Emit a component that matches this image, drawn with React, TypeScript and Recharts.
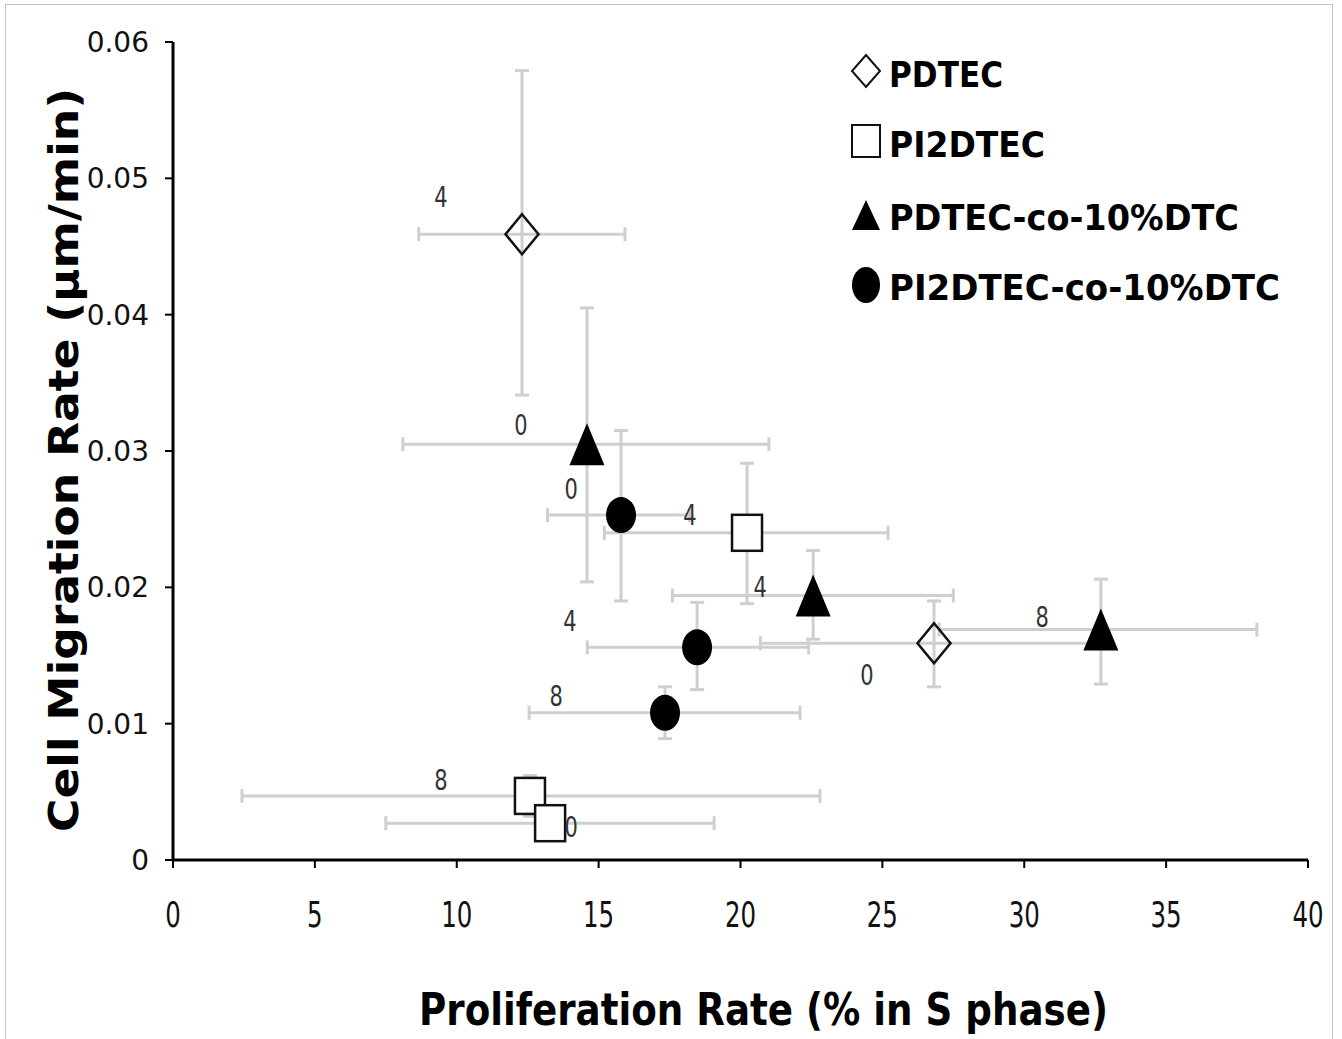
import React from "react";
import { ScatterChart, Scatter, XAxis, YAxis, ErrorBar, Legend } from "recharts";

const xTicks = [0, 5, 10, 15, 20, 25, 30, 35, 40];
const yTicks = [0, 0.01, 0.02, 0.03, 0.04, 0.05, 0.06];

// PDTEC (open diamond)
const pdtecX = [12.3, 26.82];
const pdtecY = [0.0459, 0.0159];
const pdtecXLow = [8.66, 20.7];
const pdtecXHigh = [15.93, 32.4];
const pdtecYLow = [0.0341, 0.0127];
const pdtecYHigh = [0.0579, 0.019];
const pdtecDays = ["4", "0"];
const pdtecLabelX = [9.44, 24.46];
const pdtecLabelY = [0.0486, 0.0136];

// PI2DTEC (open square)
const pi2X = [20.23, 12.58, 13.29];
const pi2Y = [0.024, 0.0047, 0.0027];
const pi2XLow = [15.2, 2.43, 7.5];
const pi2XHigh = [25.2, 22.8, 19.07];
const pi2YLow = [0.0188, 0.0032, 0.0022];
const pi2YHigh = [0.0291, 0.0062, 0.0031];
const pi2Days = ["4", "8", "0"];
const pi2LabelX = [18.22, 9.44, 14.03];
const pi2LabelY = [0.0253, 0.0059, 0.0024];

// PDTEC-co-10%DTC (filled triangle)
const pdtecCoX = [14.59, 22.56, 32.7];
const pdtecCoY = [0.0305, 0.0194, 0.0169];
const pdtecCoXLow = [8.1, 17.6, 27.0];
const pdtecCoXHigh = [21.0, 27.5, 38.2];
const pdtecCoYLow = [0.0204, 0.0162, 0.0129];
const pdtecCoYHigh = [0.0405, 0.0227, 0.0206];
const pdtecCoDays = ["0", "4", "8"];
const pdtecCoLabelX = [12.26, 20.69, 30.63];
const pdtecCoLabelY = [0.0319, 0.02, 0.0178];

// PI2DTEC-co-10%DTC (filled circle)
const pi2CoX = [15.79, 18.47, 17.34];
const pi2CoY = [0.0253, 0.0156, 0.0108];
const pi2CoXLow = [13.2, 14.6, 12.55];
const pi2CoXHigh = [18.2, 22.4, 22.1];
const pi2CoYLow = [0.019, 0.0125, 0.0089];
const pi2CoYHigh = [0.0315, 0.0189, 0.0127];
const pi2CoDays = ["0", "4", "8"];
const pi2CoLabelX = [14.03, 13.99, 13.5];
const pi2CoLabelY = [0.0272, 0.0175, 0.012];

const build = (
  xs: number[], ys: number[], xl: number[], xh: number[], yl: number[], yh: number[]
) =>
  xs.map((x, i) => ({
    x,
    y: ys[i],
    ex: [x - xl[i], xh[i] - x],
    ey: [ys[i] - yl[i], yh[i] - ys[i]],
  }));

const labels = (xs: number[], ys: number[], days: string[]) =>
  xs.map((x, i) => ({ x, y: ys[i], day: days[i] }));

const pdtecData = build(pdtecX, pdtecY, pdtecXLow, pdtecXHigh, pdtecYLow, pdtecYHigh);
const pi2Data = build(pi2X, pi2Y, pi2XLow, pi2XHigh, pi2YLow, pi2YHigh);
const pdtecCoData = build(pdtecCoX, pdtecCoY, pdtecCoXLow, pdtecCoXHigh, pdtecCoYLow, pdtecCoYHigh);
const pi2CoData = build(pi2CoX, pi2CoY, pi2CoXLow, pi2CoXHigh, pi2CoYLow, pi2CoYHigh);

const dayLabels = [
  ...labels(pdtecLabelX, pdtecLabelY, pdtecDays),
  ...labels(pi2LabelX, pi2LabelY, pi2Days),
  ...labels(pdtecCoLabelX, pdtecCoLabelY, pdtecCoDays),
  ...labels(pi2CoLabelX, pi2CoLabelY, pi2CoDays),
];

const FONT = "'DejaVu Sans', Verdana, sans-serif";
const BAR = "#cfcfcf";

const Diamond = ({ cx, cy }: any) => (
  <path
    d={`M${cx},${cy - 20} L${cx + 16.5},${cy} L${cx},${cy + 20} L${cx - 16.5},${cy} Z`}
    fill="none"
    stroke="#111"
    strokeWidth={2.5}
  />
);
const Square = ({ cx, cy }: any) => (
  <rect x={cx - 15} y={cy - 18} width={30} height={36} fill="#fff" stroke="#111" strokeWidth={2.5} />
);
const Triangle = ({ cx, cy }: any) => (
  <path d={`M${cx},${cy - 21} L${cx + 17.5},${cy + 21} L${cx - 17.5},${cy + 21} Z`} fill="#000" />
);
const Dot = ({ cx, cy }: any) => <ellipse cx={cx} cy={cy} rx={15} ry={18} fill="#000" />;
const Nothing = () => <g />;

const DayLabel = ({ cx, cy, payload }: any) => (
  <text
    transform={`translate(${cx},${cy + 10}) scale(0.75,1)`}
    textAnchor="middle"
    fontFamily={FONT}
    fontSize={28}
    fill="#333"
  >
    {payload.day}
  </text>
);

const XTick = ({ x, y, payload }: any) => (
  <text
    transform={`translate(${x},${y + 59}) scale(0.68,1)`}
    textAnchor="middle"
    fontFamily={FONT}
    fontSize={36}
    fill="#111"
  >
    {payload.value}
  </text>
);

const YTick = ({ x, y, payload }: any) => (
  <text x={x} y={y + 10} textAnchor="end" fontFamily={FONT} fontSize={28} fill="#111">
    {payload.value === 0 ? "0" : payload.value.toFixed(2)}
  </text>
);

const XTitle = () => (
  <text
    x={419}
    y={1025}
    textLength={689}
    lengthAdjust="spacingAndGlyphs"
    fontFamily={FONT}
    fontWeight="bold"
    fontSize={45}
    fill="#000"
  >
    Proliferation Rate (% in S phase)
  </text>
);

const YTitle = () => (
  <text
    transform="translate(78,832) rotate(-90)"
    textLength={744}
    lengthAdjust="spacingAndGlyphs"
    fontFamily={FONT}
    fontWeight="bold"
    fontSize={40}
    fill="#000"
  >
    Cell Migration Rate (μm/min)
  </text>
);

const legendItems = [
  { name: "PDTEC", width: 114, icon: (cy: number) => <path d={`M26,${cy - 16} L40,${cy} L26,${cy + 16} L12,${cy} Z`} fill="none" stroke="#111" strokeWidth={2} /> },
  { name: "PI2DTEC", width: 156, icon: (cy: number) => <rect x={12} y={cy - 16} width={28} height={32} fill="#fff" stroke="#111" strokeWidth={2} /> },
  { name: "PDTEC-co-10%DTC", width: 350, icon: (cy: number) => <path d={`M26,${cy - 15} L40,${cy + 15} L12,${cy + 15} Z`} fill="#000" /> },
  { name: "PI2DTEC-co-10%DTC", width: 391, icon: (cy: number) => <ellipse cx={26} cy={cy} rx={14} ry={18} fill="#000" /> },
];
const legendRows = [31, 101, 175, 245];
const legendBaselines = [47, 117, 190, 260];

const LegendBox = () => (
  <svg width={480} height={290} style={{ display: "block" }}>
    {legendItems.map((it, i) => (
      <g key={it.name}>
        {it.icon(legendRows[i])}
        <text
          x={49}
          y={legendBaselines[i]}
          textLength={it.width}
          lengthAdjust="spacingAndGlyphs"
          fontFamily={FONT}
          fontWeight="bold"
          fontSize={36}
          fill="#000"
        >
          {it.name}
        </text>
      </g>
    ))}
  </svg>
);

export default function App() {
  return (
    <div style={{ position: "absolute", left: 0, top: 0, width: 1342, height: 1039, background: "#fff" }}>
      <div
        style={{
          position: "absolute",
          left: 5,
          top: 4,
          width: 1328,
          height: 1035,
          border: "1.5px solid #c4c4c4",
          borderBottom: "none",
          boxSizing: "border-box",
          pointerEvents: "none",
        }}
      />
      <ScatterChart width={1342} height={1039} margin={{ top: 42, right: 34, bottom: 0, left: 0 }}>
        <XAxis
          type="number"
          dataKey="x"
          domain={[0, 40]}
          ticks={xTicks}
          interval={0}
          allowDataOverflow
          height={179}
          tickSize={8}
          tickMargin={0}
          axisLine={{ stroke: "#000", strokeWidth: 3 }}
          tickLine={{ stroke: "#000", strokeWidth: 2 }}
          tick={<XTick />}
          label={<XTitle />}
        />
        <YAxis
          type="number"
          dataKey="y"
          domain={[0, 0.06]}
          ticks={yTicks}
          interval={0}
          allowDataOverflow
          width={173}
          tickSize={8}
          tickMargin={16}
          axisLine={{ stroke: "#000", strokeWidth: 3 }}
          tickLine={{ stroke: "#000", strokeWidth: 2 }}
          tick={<YTick />}
          label={<YTitle />}
        />
        <Legend
          layout="vertical"
          align="center"
          verticalAlign="middle"
          content={() => <LegendBox />}
          wrapperStyle={{ position: "absolute", top: 40, left: 840, width: 480, height: 290 }}
        />

        {[pdtecData, pi2Data, pdtecCoData, pi2CoData].map((d, i) => (
          <Scatter key={"err" + i} data={d} shape={<Nothing />} isAnimationActive={false} legendType="none">
            <ErrorBar dataKey="ex" direction="x" width={7} stroke={BAR} strokeWidth={3} isAnimationActive={false} />
            <ErrorBar dataKey="ey" direction="y" width={7} stroke={BAR} strokeWidth={3} isAnimationActive={false} />
          </Scatter>
        ))}

        <Scatter name="PDTEC" data={pdtecData} shape={<Diamond />} isAnimationActive={false} />
        <Scatter name="PI2DTEC" data={pi2Data} shape={<Square />} isAnimationActive={false} />
        <Scatter name="PDTEC-co-10%DTC" data={pdtecCoData} shape={<Triangle />} isAnimationActive={false} />
        <Scatter name="PI2DTEC-co-10%DTC" data={pi2CoData} shape={<Dot />} isAnimationActive={false} />
        <Scatter data={dayLabels} shape={<DayLabel />} isAnimationActive={false} legendType="none" />
      </ScatterChart>
    </div>
  );
}
